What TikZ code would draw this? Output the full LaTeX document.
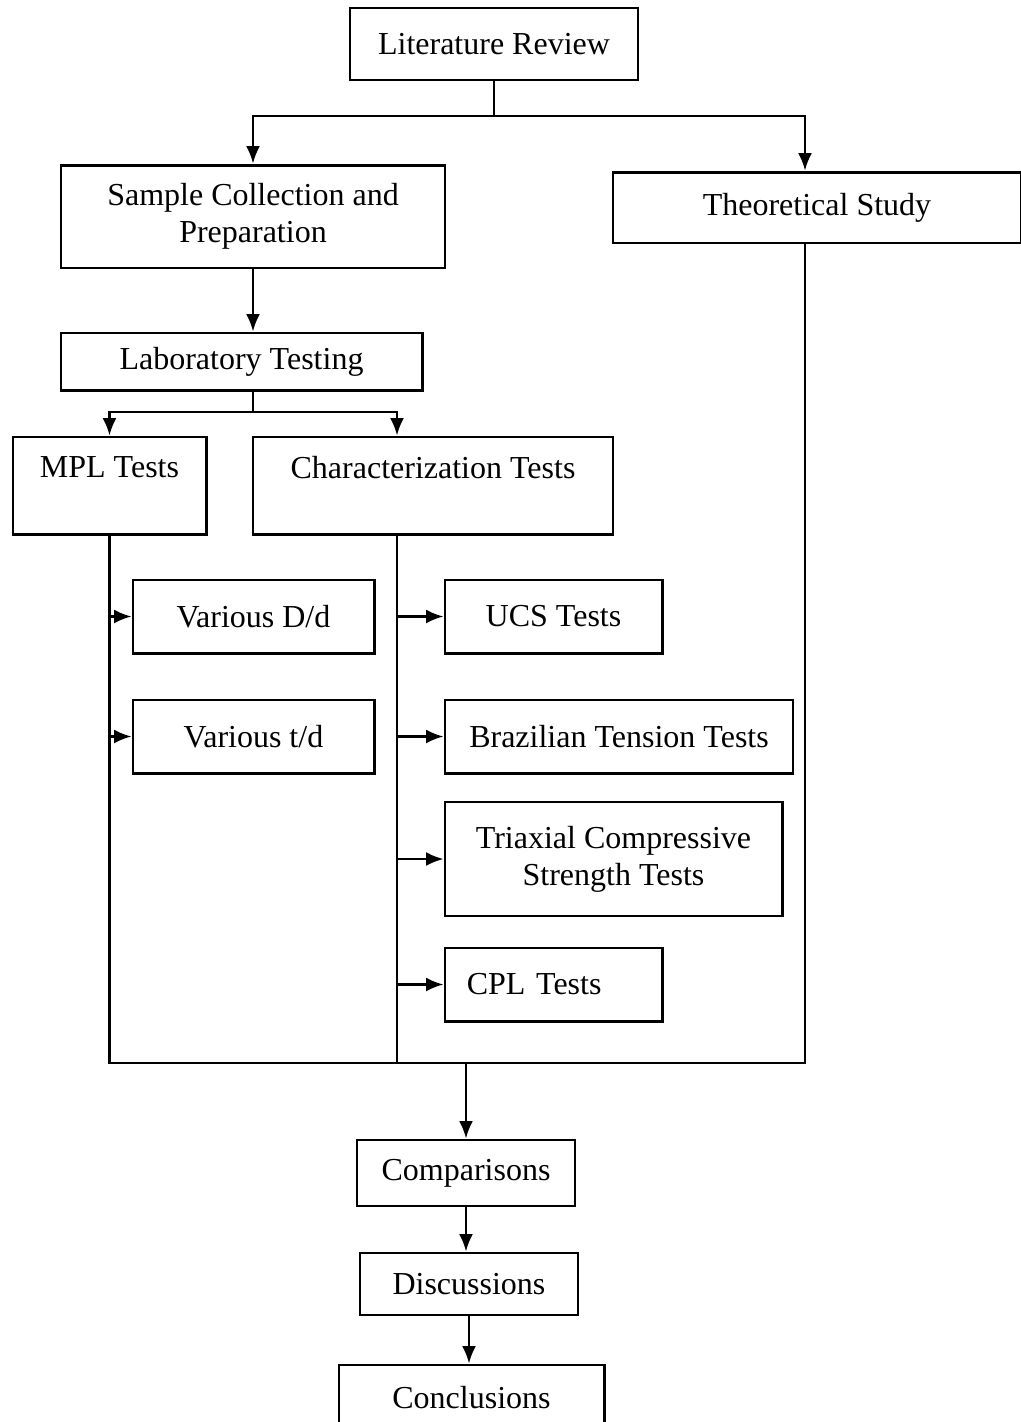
\documentclass[tikz,border=0pt]{standalone}
\usepackage{fontspec}
\setmainfont{Liberation Serif}
\usetikzlibrary{arrows.meta, positioning}

\begin{document}
\begin{tikzpicture}[x=3.75pt, y=-3.75pt,
    box/.style={draw, line width=1.1pt, align=center, inner sep=3pt,
        font=\fontsize{12}{13.8}\selectfont},
    link/.style={line width=0.9pt},
    arr/.style={line width=0.9pt, -{Latex[length=6.5pt, width=5.2pt]}}]
    \useasboundingbox (0,0) rectangle (102.1,142.2);

    % Top of the flow
    \node[box, minimum width=108pt, minimum height=27pt] (litrev) at (49.4,4.4) {Literature Review};
    \node[box, minimum width=144pt, minimum height=38.6pt] (sample) at (25.3,21.65) {Sample Collection and\\Preparation};
    \node[box, minimum width=153pt, minimum height=26.6pt] (theory) at (81.7,20.75) {Theoretical Study};
    \node[box, minimum width=135.4pt, minimum height=21.4pt] (lab) at (24.15,36.15) {Laboratory Testing};

    % Test groups
    \node[box, minimum width=72.4pt, minimum height=36.4pt] (mpl) at (10.95,48.55) {MPL Tests\\~};
    \node[box, minimum width=135pt, minimum height=36.4pt] (charac) at (43.3,48.55) {Characterization Tests\\~};

    % MPL branches
    \node[box, minimum width=90.4pt, minimum height=27.4pt] (diam) at (25.35,61.65) {Various D/d};
    \node[box, minimum width=90.4pt, minimum height=27.4pt] (thick) at (25.35,73.65) {Various t/d};

    % Characterization branches
    \node[box, minimum width=81.4pt, minimum height=27.4pt] (ucs) at (55.35,61.65) {UCS Tests};
    \node[box, minimum width=130.5pt, minimum height=27.4pt] (brazil) at (61.9,73.65) {Brazilian Tension Tests};
    \node[box, minimum width=126.4pt, minimum height=42.75pt] (triax) at (61.35,85.9) {Triaxial Compressive\\Strength Tests};
    \node[box, text width=65pt, inner xsep=8.2pt, align=left, minimum height=27.4pt] (cpl) at (55.35,98.45) {CPL Tests};

    % Bottom of the flow
    \node[box, minimum width=81.75pt, minimum height=24.75pt] (comp) at (46.6,117.3) {Comparisons};
    \node[box, minimum width=81.75pt, minimum height=23.25pt] (disc) at (46.9,128.4) {Discussions};
    \node[box, minimum width=99.4pt, minimum height=24.4pt] (concl) at (47.15,139.75) {Conclusions};

    % Split below the literature review
    \coordinate (topsplit) at (49.4,11.6);
    \coordinate (theoin) at (80.5,11.6);
    \draw[link] (litrev.south) -- (topsplit);
    \draw[arr] (topsplit) -| (sample.north);
    \draw[arr] (topsplit) -- (theoin) -- (theoin |- theory.north);

    % Sample to lab, lab to test groups
    \draw[arr] (sample.south) -- (sample.south |- lab.north);
    \coordinate (labsplit) at (25.3,41.2);
    \coordinate (charin) at (39.7,41.2);
    \draw[link] (sample.south |- lab.south) -- (labsplit);
    \draw[arr] (labsplit) -| (mpl.north);
    \draw[arr] (labsplit) -- (charin) -- (charin |- charac.north);

    % Collecting lines
    \coordinate (mplend) at (10.95,106.3);
    \coordinate (charend) at (39.7,106.3);
    \coordinate (theoend) at (80.5,106.3);
    \draw[link] (mpl.south) -- (mplend) -- (theoend) -- (theoend |- theory.south);
    \draw[link] (charin |- charac.south) -- (charend);

    % Side arrows
    \foreach \n in {diam, thick}
        \draw[arr] (\n.west -| mplend) -- (\n.west);
    \foreach \n in {ucs, brazil, triax, cpl}
        \draw[arr] (\n.west -| charend) -- (\n.west);

    % Down to the conclusions
    \draw[arr] (comp.north |- mplend) -- (comp.north);
    \draw[arr] (comp.south) -- (comp.south |- disc.north);
    \draw[arr] (disc.south) -- (disc.south |- concl.north);
\end{tikzpicture}
\end{document}
